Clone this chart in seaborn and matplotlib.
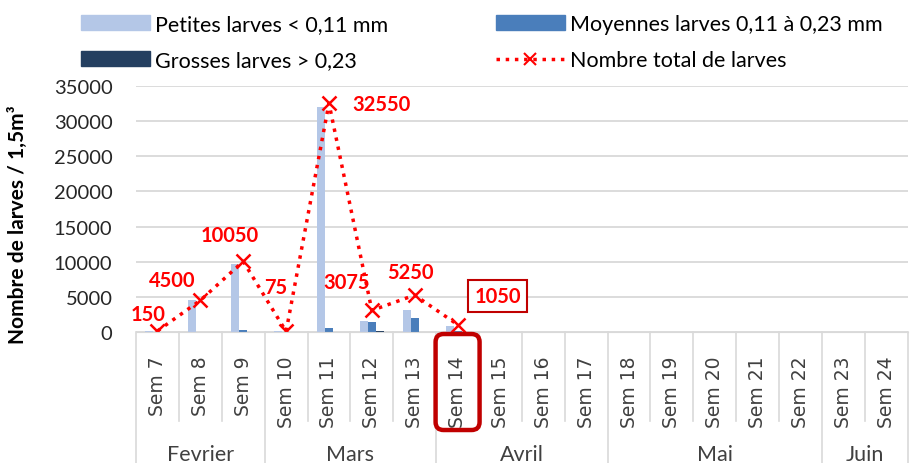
import matplotlib
matplotlib.use("Agg")
import matplotlib.pyplot as plt
import matplotlib.transforms as mtransforms
from matplotlib.patches import FancyBboxPatch
import numpy as np
import pandas as pd
import seaborn as sns

weeks = [f"Sem {i}" for i in range(7, 25)]
months = ["Fevrier", "Mars", "Avril", "Mai", "Juin"]
month_spans = [3, 4, 4, 5, 2]

petites = [150, 4500, 9700, 75, 31950, 1600, 3200, 850, 0, 0, 0, 0, 0, 0, 0, 0, 0, 0]
moyennes = [0, 0, 300, 0, 600, 1400, 2000, 200, 0, 0, 0, 0, 0, 0, 0, 0, 0, 0]
grosses = [0, 0, 50, 0, 0, 75, 50, 0, 0, 0, 0, 0, 0, 0, 0, 0, 0, 0]
total = [150, 4500, 10050, 75, 32550, 3075, 5250, 1050] + [np.nan] * 10
highlight = "Sem 14"

series_names = ["Petites larves < 0,11 mm", "Moyennes larves 0,11 à 0,23 mm", "Grosses larves > 0,23"]
colors = ["#B4C7E7", "#4A7EBB", "#243F60"]
total_name = "Nombre total de larves"

# label offsets in pixels (dx, dy) for the total series
label_offsets = [(-9, 17), (-28, 20), (-13, 26), (-10, 44), (53, -1), (-25, 28), (-4, 23), (40, 29)]

df = pd.DataFrame({
    "week": weeks * 3,
    "value": petites + moyennes + grosses,
    "size": np.repeat(series_names, len(weeks)),
})

plt.rcParams["font.family"] = ["Lato", "DejaVu Sans"]
fig = plt.figure(figsize=(9.1, 4.64), dpi=100)
ax = fig.add_axes([0.1495, 0.2823, 0.848, 0.5302])

sns.barplot(data=df, x="week", y="value", hue="size", palette=colors,
            width=0.56, ax=ax, legend=False, saturation=1)

x_pos = np.arange(len(weeks))
sns.lineplot(x=x_pos, y=total, ax=ax, color="#FF0000", linestyle=":", lw=2.5,
             marker="x", markersize=10, markeredgewidth=1.8, markeredgecolor="#FF0000")

for i, (v, off) in enumerate(zip(total, label_offsets)):
    kw = dict(textcoords="offset pixels", ha="center", va="center",
              fontsize=14.5, fontweight="bold", color="#FF0000")
    if i == 7:
        kw["bbox"] = dict(boxstyle="square,pad=0.3", fc="white", ec="#C00000", lw=1.5)
    ax.annotate(f"{int(v)}", (i, v), xytext=off, **kw)

ax.set_ylim(0, 35000)
ax.set_xlim(-0.5, len(weeks) - 0.5)
ax.set_yticks(range(0, 35001, 5000))
ax.yaxis.grid(True, color="#D9D9D9", lw=1.3)
ax.set_axisbelow(True)
for s in ["top", "right", "left"]:
    ax.spines[s].set_visible(False)
ax.spines["bottom"].set_color("#D9D9D9")
ax.tick_params(axis="both", length=0, colors="#262626")
ax.tick_params(axis="y", labelsize=14.5, pad=17)
ax.tick_params(axis="x", rotation=90, pad=17, labelsize=13.5)
for t in ax.get_xticklabels():
    t.set_family("DejaVu Sans")
    t.set_color("#404040")
ax.set_xlabel("")
ax.set_ylabel("Nombre de larves / 1,5m³", fontsize=15, fontweight="bold")
ax.yaxis.set_label_coords(-0.14, 0.44)

# rounded red frame around the highlighted week label (pixel space)
fig.canvas.draw()
xc, y0 = ax.transData.transform((weeks.index(highlight), 0))
frame = FancyBboxPatch((xc - 22, y0 - 98), 44, 96, boxstyle="round,pad=0,rounding_size=8",
                       transform=None, fc="none", ec="#C00000", lw=3.2, clip_on=False)
fig.patches.append(frame)

# category separators and month labels under the axis
trans = mtransforms.blended_transform_factory(ax.transData, ax.transAxes)
bounds = np.cumsum([0] + month_spans) - 0.5
for i in range(len(weeks) + 1):
    xb = i - 0.5
    bottom = -0.54 if np.any(np.isclose(bounds, xb)) else -0.36
    ax.plot([xb, xb], [0, bottom], transform=trans, color="#D9D9D9", lw=1.2, clip_on=False)
for m, a, b in zip(months, bounds[:-1], bounds[1:]):
    ax.text((a + b) / 2, -0.495, m, transform=trans, ha="center", va="center",
            fontsize=15.5, color="#404040")

handles = [
    plt.Rectangle((0, 0), 1, 1, color=colors[0]),
    plt.Rectangle((0, 0), 1, 1, color=colors[2]),
    plt.Rectangle((0, 0), 1, 1, color=colors[1]),
    plt.Line2D([], [], color="#FF0000", ls=":", lw=2.5, marker="x", markersize=9, markeredgewidth=1.5),
]
labels = [series_names[0], series_names[2], series_names[1], total_name]
fig.legend(handles, labels, loc="upper left", bbox_to_anchor=(0.07, 1.005), ncol=2,
           frameon=False, fontsize=15.5, handlelength=3.2, handleheight=0.7,
           columnspacing=5.0, labelspacing=0.75, handletextpad=0.25, borderpad=0.3)

fig.savefig("out.png", dpi=100)
